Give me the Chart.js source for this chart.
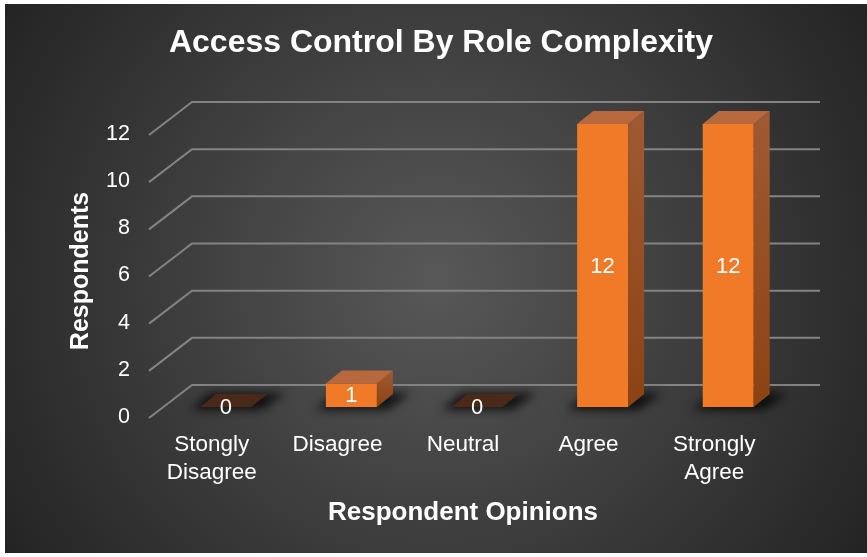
<!DOCTYPE html>
<html>
<head>
<meta charset="utf-8">
<script src="https://cdn.jsdelivr.net/npm/chart.js@4.4.1/dist/chart.umd.min.js"></script>
<style>
  html, body { margin: 0; padding: 0; background: #ffffff; }
  #wrap { position: absolute; left: 5px; top: 4px; width: 862px; height: 549px; }
  canvas { display: block; }
</style>
</head>
<body>
<div id="wrap"><canvas id="chart" width="862" height="549"></canvas></div>
<script>
// ---- data ----
const categories = [['Stongly', 'Disagree'], 'Disagree', 'Neutral', 'Agree', ['Strongly', 'Agree']];
const respondents = [0, 1, 0, 12, 12];
const yTicks = [0, 2, 4, 6, 8, 10, 12];
const chartTitle = 'Access Control By Role Complexity';
const xTitle = 'Respondent Opinions';
const yTitle = 'Respondents';

// ---- look ----
const FONT = "'Liberation Sans', Arial, Helvetica, sans-serif";
const DEPTH = { dx: 16, dy: -13 };   // bar box depth
const WALL = { dx: 29, dy: -22 };    // back wall, relative to the bar plane
const FRONT = { dx: -14, dy: 11 };   // front floor edge, relative to the bar plane

function barEdges(bar) {
  const half = bar.width / 2;
  return { x0: bar.x - half, x1: bar.x + half, top: Math.min(bar.y, bar.base), base: bar.base };
}

const depthPlugin = {
  id: 'depth3d',
  beforeDraw(chart) {
    const { ctx, width, height } = chart;
    ctx.save();
    const g = ctx.createRadialGradient(width * 0.5, height * 0.5, 0, width * 0.5, height * 0.5, width * 0.6);
    g.addColorStop(0, '#585858');
    g.addColorStop(1, '#232323');
    ctx.fillStyle = g;
    ctx.fillRect(0, 0, width, height);
    ctx.restore();
  },
  beforeDatasetsDraw(chart) {
    const { ctx, chartArea: a, scales: { y } } = chart;
    ctx.save();
    // back wall gridlines with their slanted side edges
    ctx.strokeStyle = '#838383';
    ctx.lineWidth = 2;
    y.ticks.forEach(t => {
      const py = y.getPixelForValue(t.value);
      ctx.beginPath();
      ctx.moveTo(a.left + FRONT.dx, py + FRONT.dy);
      ctx.lineTo(a.left + WALL.dx, py + WALL.dy);
      ctx.lineTo(a.right + WALL.dx, py + WALL.dy);
      ctx.stroke();
    });
    // soft floor shadows under the boxes
    ctx.filter = 'blur(5px)';
    ctx.fillStyle = 'rgba(0,0,0,0.75)';
    chart.getDatasetMeta(0).data.forEach(bar => {
      const { x0, x1, base } = barEdges(bar);
      ctx.beginPath();
      ctx.moveTo(x0 - 10, base + 3);
      ctx.lineTo(x1 + 10, base + 3);
      ctx.lineTo(x1 + DEPTH.dx + 18, base + DEPTH.dy - 1);
      ctx.lineTo(x0 + DEPTH.dx - 6, base + DEPTH.dy - 1);
      ctx.closePath();
      ctx.fill();
    });
    ctx.restore();
  },
  afterDatasetsDraw(chart) {
    const { ctx, chartArea: a } = chart;
    const meta = chart.getDatasetMeta(0);
    ctx.save();
    meta.data.forEach((bar, i) => {
      const { x0, x1, top, base } = barEdges(bar);
      const flat = base - top < 0.5;
      if (!flat) {
        // right side face
        const sg = ctx.createLinearGradient(0, top + DEPTH.dy, 0, base);
        sg.addColorStop(0, '#a05a32');
        sg.addColorStop(1, '#8c4313');
        ctx.fillStyle = sg;
        ctx.beginPath();
        ctx.moveTo(x1, top);
        ctx.lineTo(x1 + DEPTH.dx, top + DEPTH.dy);
        ctx.lineTo(x1 + DEPTH.dx, base + DEPTH.dy);
        ctx.lineTo(x1, base);
        ctx.closePath();
        ctx.fill();
      }
      // top face
      ctx.fillStyle = flat ? '#4a2919' : '#b8683d';
      ctx.beginPath();
      ctx.moveTo(x0, top);
      ctx.lineTo(x1, top);
      ctx.lineTo(x1 + DEPTH.dx, top + DEPTH.dy);
      ctx.lineTo(x0 + DEPTH.dx, top + DEPTH.dy);
      ctx.closePath();
      ctx.fill();

      // value label
      ctx.fillStyle = '#ffffff';
      ctx.font = '22px ' + FONT;
      ctx.textAlign = 'center';
      ctx.textBaseline = 'middle';
      ctx.fillText(String(respondents[i]), bar.x, (top + base) / 2 + 1);
    });

    // axis titles
    ctx.fillStyle = '#ffffff';
    ctx.font = 'bold 26px ' + FONT;
    ctx.textAlign = 'center';
    ctx.textBaseline = 'alphabetic';
    ctx.fillText(xTitle, (a.left + a.right) / 2 + FRONT.dx, a.bottom + 113);

    ctx.translate(a.left - 82, a.top + 147);
    ctx.rotate(-Math.PI / 2);
    ctx.font = 'bold 25px ' + FONT;
    ctx.textBaseline = 'middle';
    ctx.fillText(yTitle, 0, 0);
    ctx.restore();
  }
};

new Chart(document.getElementById('chart'), {
  type: 'bar',
  data: {
    labels: categories,
    datasets: [{
      label: yTitle,
      data: respondents,
      backgroundColor(c) {
        const el = c.element;
        if (!el || el.y === undefined || Math.abs(el.base - el.y) < 1) return '#f07a28';
        const g = c.chart.ctx.createLinearGradient(0, el.y, 0, el.base);
        g.addColorStop(0, '#f39159');
        g.addColorStop(0.5, '#f47f27');
        g.addColorStop(1, '#e46c18');
        return g;
      },
      borderWidth: 0,
      barPercentage: 0.406,
      categoryPercentage: 1
    }]
  },
  options: {
    responsive: false,
    devicePixelRatio: 1,
    animation: false,
    layout: { padding: { left: 86, right: 76, top: 0, bottom: 0 } },
    plugins: {
      legend: { display: false },
      tooltip: { enabled: false },
      title: {
        display: true,
        text: chartTitle,
        color: '#ffffff',
        font: { family: FONT, size: 32, weight: 'bold' },
        padding: { top: 20, bottom: 61.6 }
      }
    },
    scales: {
      x: {
        grid: { display: false, drawTicks: false },
        border: { display: false },
        ticks: {
          color: '#ffffff',
          font: { family: FONT, size: 22.5, lineHeight: 1.25 },
          padding: 24,
          labelOffset: FRONT.dx,
          maxRotation: 0,
          autoSkip: false
        },
        afterFit(s) { s.height = 146; }
      },
      y: {
        min: 0,
        max: 12,
        grid: { display: false, drawTicks: false },
        border: { display: false },
        afterBuildTicks(s) { s.ticks = yTicks.map(v => ({ value: v })); },
        ticks: {
          color: '#ffffff',
          font: { family: FONT, size: 21.5 },
          padding: 33,
          labelOffset: 10
        },
        afterFit(s) { s.width = 72; }
      }
    }
  },
  plugins: [depthPlugin]
});
</script>
</body>
</html>
